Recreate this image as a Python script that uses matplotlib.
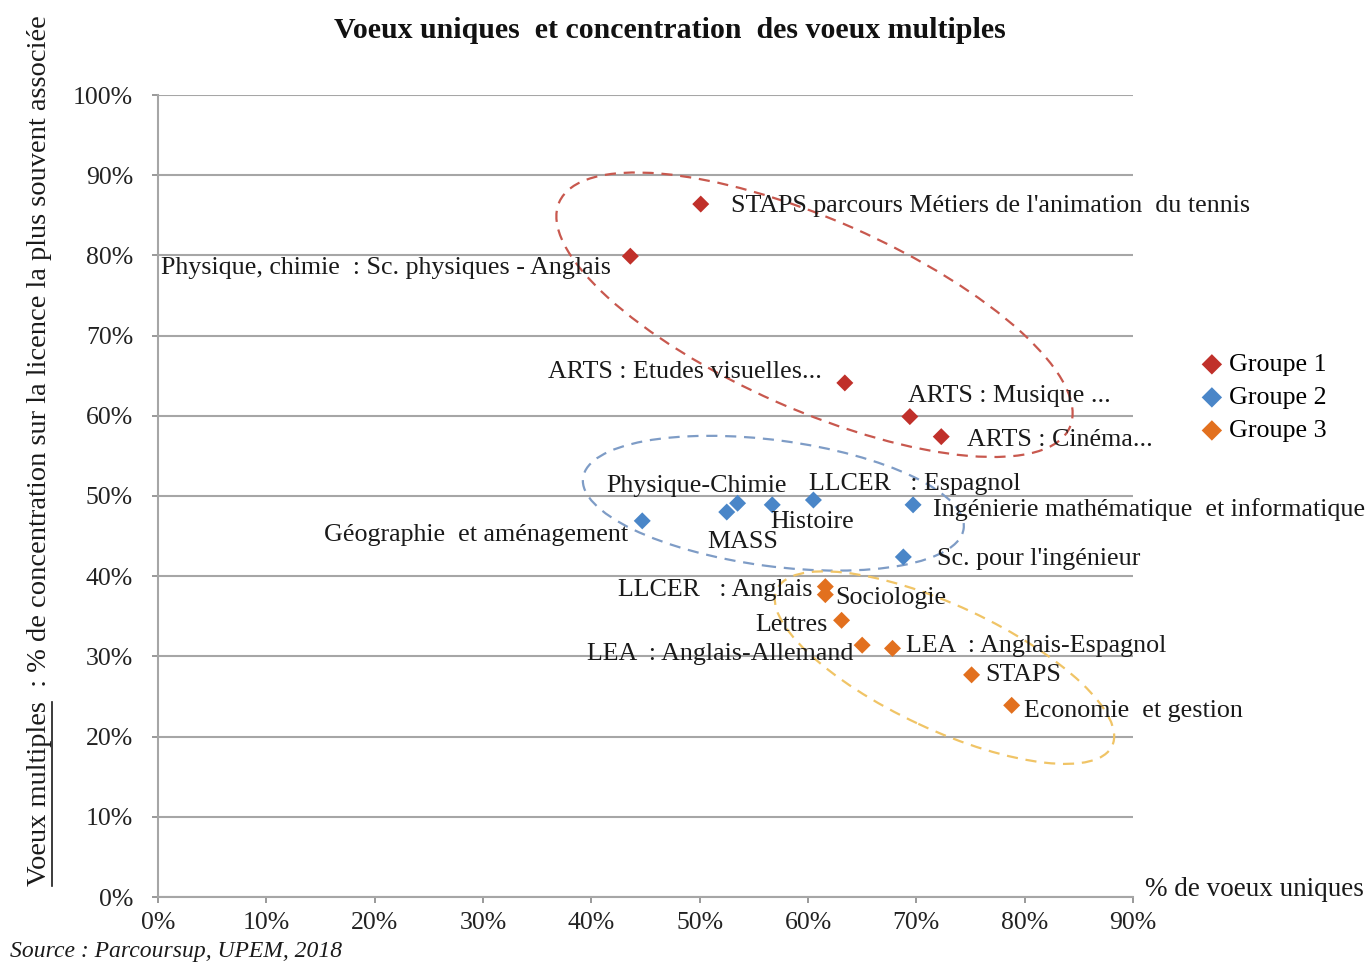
import matplotlib
matplotlib.use("Agg")
import matplotlib.pyplot as plt
from matplotlib.patches import Ellipse
from matplotlib.lines import Line2D
from matplotlib.transforms import IdentityTransform

plt.rcParams['font.family'] = ['Liberation Serif', 'DejaVu Serif']

# Données (en %)
g1_noms = ["STAPS parcours Métiers de l'animation  du tennis",
           "Physique, chimie  : Sc. physiques - Anglais",
           "ARTS : Etudes visuelles...",
           "ARTS : Musique ...",
           "ARTS : Cinéma..."]
g1_x = [50.1, 43.6, 63.4, 69.4, 72.3]
g1_y = [86.4, 79.9, 64.1, 59.9, 57.4]

g2_noms = ["Géographie  et aménagement",
           "Physique-Chimie",
           "MASS",
           "Histoire",
           "LLCER   : Espagnol",
           "Ingénierie mathématique  et informatique",
           "Sc. pour l'ingénieur"]
g2_x = [44.7, 52.5, 53.5, 56.7, 60.5, 69.7, 68.8]
g2_y = [46.9, 48.0, 49.1, 48.9, 49.5, 48.9, 42.4]

g3_noms = ["LLCER   : Anglais",
           "Sociologie",
           "Lettres",
           "LEA  : Anglais-Allemand",
           "LEA  : Anglais-Espagnol",
           "STAPS",
           "Economie  et gestion"]
g3_x = [61.6, 61.6, 63.1, 65.0, 67.8, 75.1, 78.8]
g3_y = [38.7, 37.7, 34.5, 31.4, 31.0, 27.7, 23.9]

groupes = ["Groupe 1", "Groupe 2", "Groupe 3"]
couleurs = ['#C0302A', '#4A86C8', '#E2701E']

# placement des étiquettes (décalage en pixels, alignement)
g1_pos = [(30, -2, 'left'), (-19, -12, 'right'), (-23, 11, 'right'), (-2, 21, 'left'), (26, -3, 'left')]
g2_pos = [(-14, -14, 'right'), (-30, 26, 'center'), (5, -39, 'center'), (-2, -17, 'left'),
          (-4, 16, 'left'), (20, -5, 'left'), (34, -2, 'left')]
g3_pos = [(-13, -3, 'right'), (10, -3, 'left'), (-14, -5, 'right'), (-9, -9, 'right'),
          (14, 2, 'left'), (14, 0, 'left'), (12, -6, 'left')]

FS = 18.7

W, H = 1368, 964
fig = plt.figure(figsize=(W / 100, H / 100), dpi=100)
ax = fig.add_axes([158 / W, 1 - 897 / H, (1133 - 158) / W, (897 - 95) / H])

ax.set_xlim(0, 90)
ax.set_ylim(0, 100)
ax.set_xticks(range(0, 91, 10))
ax.set_yticks(range(0, 101, 10))
ax.set_xticklabels([f"{v}%" for v in range(0, 91, 10)])
ax.set_yticklabels([f"{v}%" for v in range(0, 101, 10)])
ax.tick_params(labelsize=18.5, colors='#888888', labelcolor='#222222', length=4, width=1.2)
ax.tick_params(axis='x', pad=7)
ax.tick_params(axis='y', pad=14)
ax.grid(axis='y', color='#A6A6A6', linewidth=1.5)
ax.set_axisbelow(True)
for s in ['top', 'right']:
    ax.spines[s].set_visible(False)
for s in ['left', 'bottom']:
    ax.spines[s].set_color('#A6A6A6')
    ax.spines[s].set_linewidth(1.5)

series = [(g1_x, g1_y, g1_noms, g1_pos), (g2_x, g2_y, g2_noms, g2_pos), (g3_x, g3_y, g3_noms, g3_pos)]
for (xs, ys, noms, pos), nom, c in zip(series, groupes, couleurs):
    ax.scatter(xs, ys, marker='D', s=75, color=c, edgecolors='none', label=nom, zorder=3)
    for x, y, t, (dx, dy, ha) in zip(xs, ys, noms, pos):
        ax.annotate(t, (x, y), xytext=(dx, dy), textcoords='offset pixels',
                    ha=ha, va='center', fontsize=FS, color='#1a1a1a', zorder=4)

# ellipses de regroupement (centre en données, axes en pixels)
ellipses = [((60.6, 72.6), 279, 95, -23.8, '#C8584E'),
            ((56.8, 49.1), 192, 63, -7.6, '#7E9CC6'),
            ((72.6, 28.6), 185, 62, -25.0, '#F0C466')]
for (cx, cy), a, b, ang, col in ellipses:
    px, py = ax.transData.transform((cx, cy))
    e = Ellipse((px, py), 2 * a, 2 * b, angle=ang, transform=IdentityTransform(),
                fill=False, edgecolor=col, linewidth=1.6, linestyle=(0, (5, 3.5)), clip_on=False)
    ax.add_artist(e)

fig.legend(loc='upper left', bbox_to_anchor=(1182 / W, 1 - 340 / H), frameon=False,
           fontsize=FS, handletextpad=0.0, labelspacing=0.38, markerscale=1.2,
           borderpad=0, handlelength=1.3)

fig.text(670 / W, 1 - 30 / H, "Voeux uniques  et concentration  des voeux multiples",
         ha='center', va='center', fontsize=21.5, fontweight='bold', color='#111111')
fig.text(1145 / W, 1 - 890 / H, "% de voeux uniques", ha='left', va='center',
         fontsize=19.5, color='#1a1a1a')
fig.text(10 / W, 1 - 951 / H, "Source : Parcoursup, UPEM, 2018", ha='left', va='center',
         fontsize=17, style='italic', color='#1a1a1a')

YFS = 20.5
ylab = fig.text(40 / W, 1 - 451 / H,
                "Voeux multiples  : % de concentration sur la licence la plus souvent associée",
                rotation=90, ha='center', va='center', fontsize=YFS, color='#1a1a1a')

# soulignement de "Voeux multiples"
fig.canvas.draw()
r = fig.canvas.get_renderer()
bb = ylab.get_window_extent(r)
tmp = fig.text(0, 0, "Voeux multiples", fontsize=YFS)
w = tmp.get_window_extent(r).width
tmp.remove()
x0 = bb.x1 - 1
fig.add_artist(Line2D([x0, x0], [bb.y0, bb.y0 + w], transform=IdentityTransform(),
                      color='#1a1a1a', linewidth=1.2))

plt.savefig('out.png', dpi=100)
